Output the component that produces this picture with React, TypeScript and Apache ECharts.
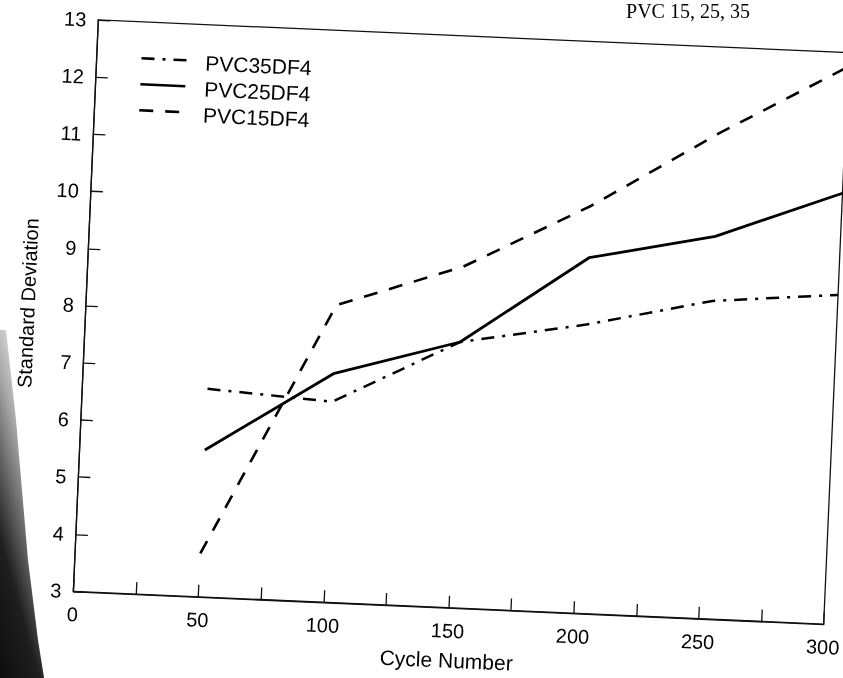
import React, { useEffect, useRef } from 'react';
import * as echarts from 'echarts';

// ---- data ----
const cycles = [50, 100, 150, 200, 250, 300];
const pvc35 = [6.64, 6.51, 7.65, 8.05, 8.56, 8.76];
const pvc25 = [5.57, 7.0, 7.65, 9.22, 9.69, 10.54];
const pvc15 = [3.76, 8.2, 8.97, 10.13, 11.5, 12.75];
const seriesNames = ['PVC35DF4', 'PVC25DF4', 'PVC15DF4'];
const xLabelValues = [0, 50, 100, 150, 200, 250, 300];
const yLabelValues = [3, 4, 5, 6, 7, 8, 9, 10, 11, 12, 13];
const headerText = 'PVC 15, 25, 35';

const FONT = "'Liberation Sans', Arial, Helvetica, sans-serif";

export default function App() {
  const chartRef = useRef<HTMLDivElement>(null);
  const overlayRef = useRef<HTMLDivElement>(null);

  useEffect(() => {
    const chart = echarts.init(chartRef.current!, undefined, { renderer: 'svg' });
    const overlay = echarts.init(overlayRef.current!, undefined, { renderer: 'svg' });

    const mk = (name: string, values: number[], width: number, type: any) => ({
      name,
      type: 'line',
      data: cycles.map((c, i) => [c, values[i]]),
      symbol: 'none',
      lineStyle: { color: '#000', width, type, cap: 'butt' },
      itemStyle: { color: '#000' },
      z: 3,
    });

    chart.setOption({
      animation: false,
      grid: {
        left: 185.5,
        top: 136,
        width: 751,
        height: 572,
        show: true,
        borderColor: '#111',
        borderWidth: 1.3,
      },
      legend: {
        orient: 'vertical',
        left: 224,
        top: 159,
        itemWidth: 45,
        itemHeight: 21,
        itemGap: 5,
        data: seriesNames,
        lineStyle: { width: 2.6 },
        itemStyle: { opacity: 0, borderWidth: 0 },
        formatter: (name: string) => `{t|${name}}`,
        textStyle: {
          fontSize: 21,
          fontFamily: FONT,
          color: '#000',
          rich: {
            t: { fontSize: 21, fontFamily: FONT, color: '#000', padding: [4, 0, 0, 14] },
          },
        },
      },
      xAxis: {
        type: 'value',
        min: 0,
        max: 300,
        interval: 25,
        name: 'Cycle Number',
        nameLocation: 'middle',
        nameGap: 42,
        nameTextStyle: { fontSize: 21, fontFamily: FONT, color: '#000' },
        axisLine: { show: true, lineStyle: { color: '#111', width: 1.3 } },
        axisTick: { show: true, inside: true, length: 12, lineStyle: { color: '#111', width: 1.3 } },
        axisLabel: {
          fontSize: 20,
          fontFamily: FONT,
          color: '#000',
          margin: 13,
          formatter: (v: number) => (xLabelValues.includes(v) ? String(v) : ''),
        },
        splitLine: { show: false },
      },
      yAxis: {
        type: 'value',
        min: 3,
        max: 13,
        interval: 1,
        name: 'Standard Deviation',
        nameLocation: 'middle',
        nameRotate: 90,
        nameGap: 48,
        nameTextStyle: { fontSize: 20, fontFamily: FONT, color: '#000' },
        axisLine: { show: true, lineStyle: { color: '#111', width: 1.3 } },
        axisTick: { show: true, inside: true, length: 12, lineStyle: { color: '#111', width: 1.3 } },
        axisLabel: {
          fontSize: 20,
          fontFamily: FONT,
          color: '#000',
          margin: 12,
          formatter: (v: number) => (yLabelValues.includes(v) ? String(v) : ''),
        },
        splitLine: { show: false },
      },
      series: [
        mk(seriesNames[0], pvc35, 2.5, [13, 8, 3, 8]),
        mk(seriesNames[1], pvc25, 2.8, 'solid'),
        mk(seriesNames[2], pvc15, 2.6, [14, 12]),
      ],
    });

    overlay.setOption({
      animation: false,
      graphic: [
        {
          type: 'polygon',
          shape: {
            points: [
              [-10, 330],
              [6, 330],
              [16, 420],
              [28, 560],
              [38, 640],
              [46, 690],
              [-10, 690],
            ],
          },
          style: {
            fill: new echarts.graphic.LinearGradient(0, 1, 0.55, 0, [
              { offset: 0, color: 'rgba(0,0,0,0.97)' },
              { offset: 0.4, color: 'rgba(0,0,0,0.88)' },
              { offset: 0.75, color: 'rgba(0,0,0,0.35)' },
              { offset: 1, color: 'rgba(0,0,0,0.05)' },
            ]),
          },
          silent: true,
        },
        {
          type: 'text',
          x: 688,
          y: 1,
          style: {
            text: headerText,
            fontFamily: "'Liberation Serif', 'Times New Roman', serif",
            fontSize: 20,
            fill: '#000',
            verticalAlign: 'top',
            align: 'center',
          },
          silent: true,
        },
      ],
    });

    return () => {
      chart.dispose();
      overlay.dispose();
    };
  }, []);

  return (
    <>
      <div
        ref={chartRef}
        style={{
          position: 'fixed',
          left: -100,
          top: -100,
          width: 1043,
          height: 878,
          transform: 'rotate(2.5deg)',
          transformOrigin: '561px 422px',
        }}
      />
      <div
        ref={overlayRef}
        style={{
          position: 'fixed',
          left: 0,
          top: 0,
          width: 843,
          height: 678,
          pointerEvents: 'none',
        }}
      />
    </>
  );
}
